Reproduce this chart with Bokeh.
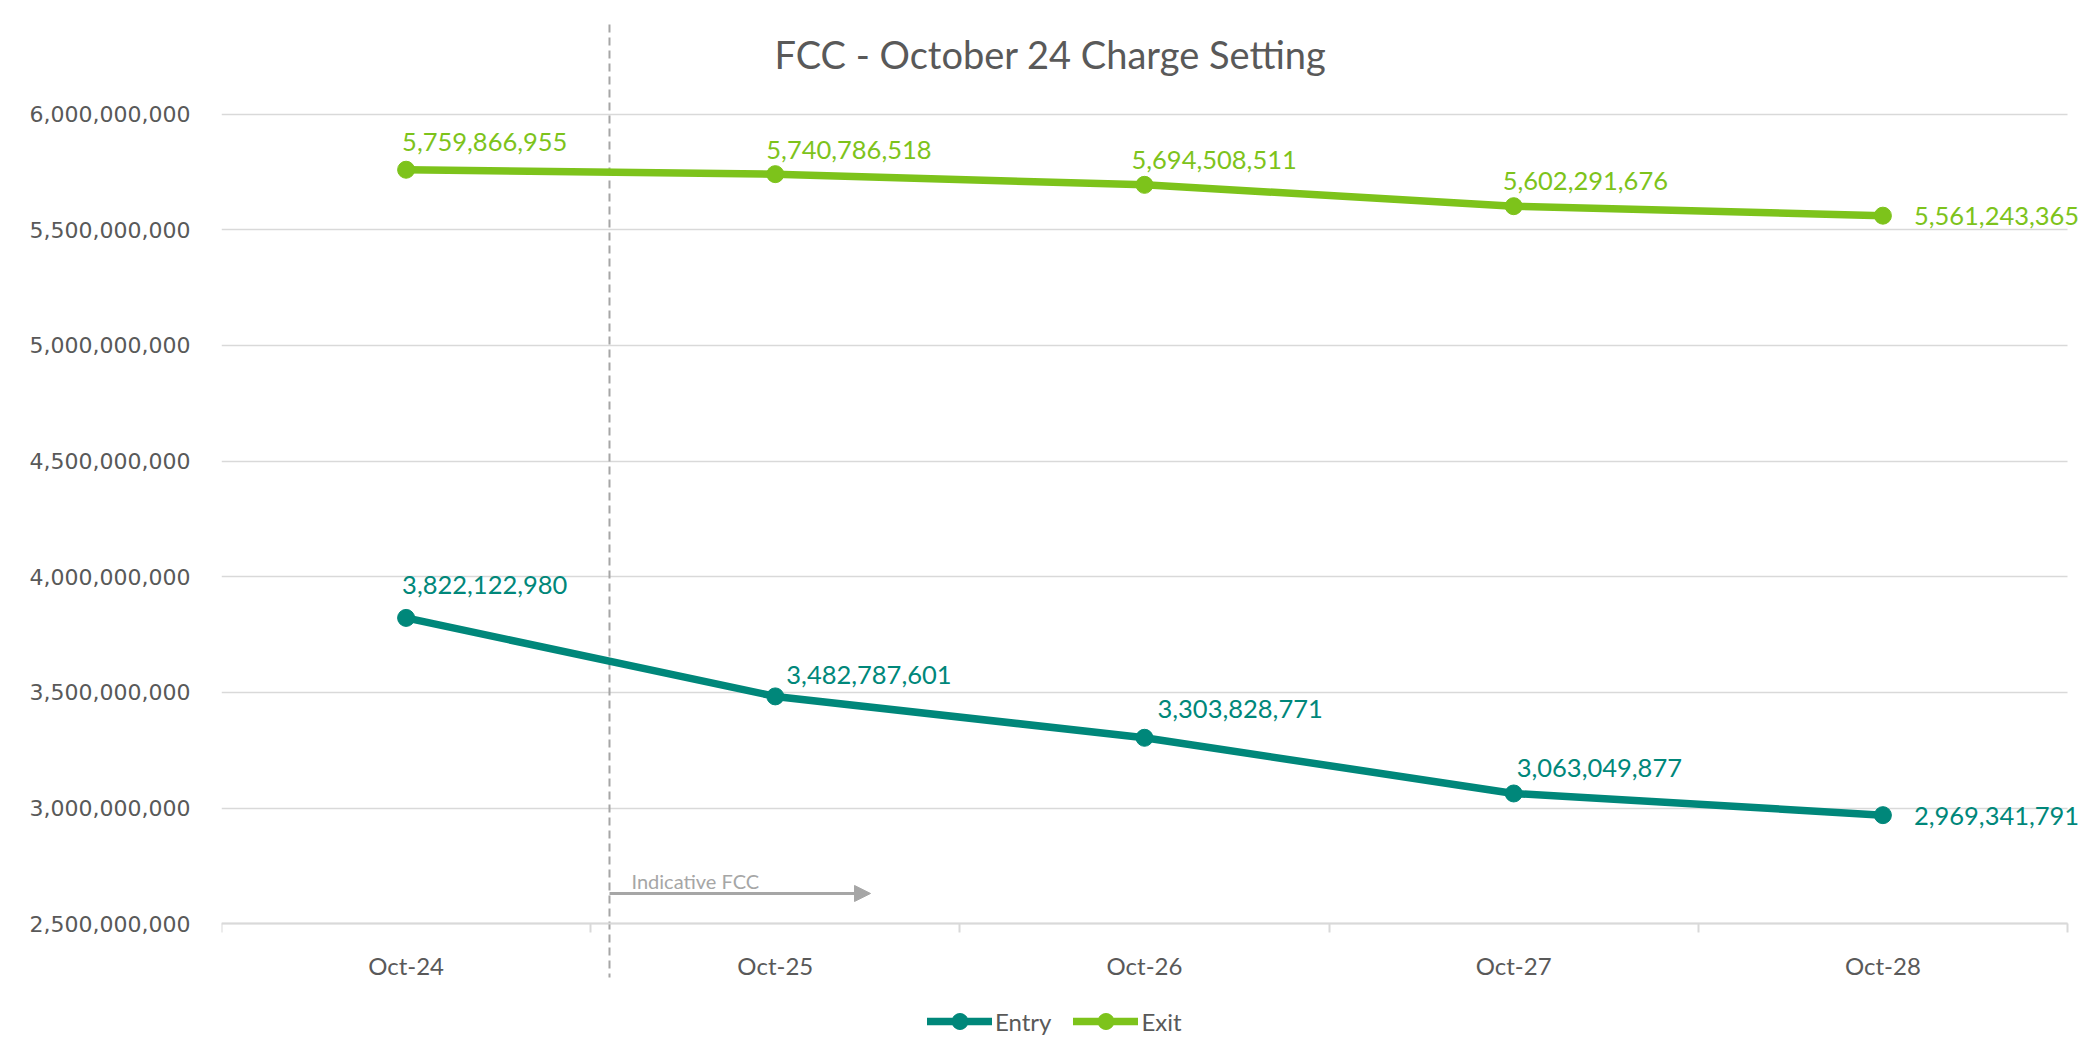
from bokeh.plotting import figure
from bokeh.models import (Range1d, FixedTicker, NumeralTickFormatter, Legend, LegendItem,
                          Label, Arrow, NormalHead, ColumnDataSource)
from bokeh.core.properties import value
from bokeh.embed import file_html
from bokeh.resources import INLINE

# ---------------- data ----------------
categories = ["Oct-24", "Oct-25", "Oct-26", "Oct-27", "Oct-28"]
entry_values = [3822122980, 3482787601, 3303828771, 3063049877, 2969341791]
exit_values = [5759866955, 5740786518, 5694508511, 5602291676, 5561243365]
y_tick_values = [2.5e9, 3.0e9, 3.5e9, 4.0e9, 4.5e9, 5.0e9, 5.5e9, 6.0e9]
title_text = "FCC - October 24 Charge Setting"
annotation_text = "Indicative FCC"
series_names = ["Entry", "Exit"]

# ---------------- styling ----------------
ENTRY_COLOR = "#00877A"
EXIT_COLOR = "#7DC31B"
GRID_COLOR = "#D9D9D9"
TEXT_GRAY = "#595959"
ANNOT_GRAY = "#A6A6A6"
FONT = "Lato"

# data label pixel offsets (left-aligned label relative to point)
entry_dx = [-4, 11, 13, 3, 31]
entry_dy = [-33, -21, -29, -25, 1]
exit_dx = [-4, -9, -13, -11, 31]
exit_dy = [-28, -24, -25, -25, 0]

W, H = 2090, 1054
LEFT = 221
n = len(categories)
xs = [i + 0.5 for i in range(n)]

p = figure(width=W, height=H,
           x_range=Range1d(0, 5.0623),
           y_range=Range1d(1.9345e9, 6.4916e9),
           output_backend="svg", toolbar_location=None,
           min_border_left=LEFT, min_border_right=0,
           min_border_top=0, min_border_bottom=0)
p.outline_line_color = None
p.background_fill_color = "white"
p.border_fill_color = "white"

# axes
p.xaxis.fixed_location = y_tick_values[0]
p.xaxis.bounds = (0, n)
p.xaxis.ticker = FixedTicker(ticks=xs, minor_ticks=list(range(n + 1)))
p.xaxis.major_label_overrides = {x: c for x, c in zip(xs, categories)}
p.xaxis.major_tick_line_color = None
p.xaxis.major_tick_out = 0
p.xaxis.major_tick_in = 0
p.xaxis.minor_tick_out = 9
p.xaxis.minor_tick_in = 0
p.xaxis.minor_tick_line_color = GRID_COLOR
p.xaxis.minor_tick_line_width = 2
p.xaxis.axis_line_color = GRID_COLOR
p.xaxis.axis_line_width = 2
p.xaxis.major_label_standoff = 18
p.xaxis.major_label_text_font = FONT
p.xaxis.major_label_text_font_size = "24px"
p.xaxis.major_label_text_color = TEXT_GRAY

p.yaxis.ticker = FixedTicker(ticks=y_tick_values)
p.yaxis.formatter = NumeralTickFormatter(format="0,0")
p.yaxis.axis_line_color = None
p.yaxis.major_tick_line_color = None
p.yaxis.minor_tick_line_color = None
p.yaxis.major_tick_out = 0
p.yaxis.major_label_standoff = 31
p.yaxis.major_label_text_font = "DejaVu Sans"
p.yaxis.major_label_text_font_size = "22px"
p.yaxis.major_label_text_color = TEXT_GRAY

p.xgrid.visible = False
p.ygrid.ticker = FixedTicker(ticks=y_tick_values)
p.ygrid.cross_bounds = (0, n)
p.ygrid.grid_line_color = GRID_COLOR
p.ygrid.grid_line_width = 1.5

# dashed divider between first and second category
dash_x = 1 + 0.0509
p.segment(x0=[dash_x], y0=[6.3878e9], x1=[dash_x], y1=[2.2675e9],
          line_color=ANNOT_GRAY, line_width=2, line_dash="8 5")

# series
renderers = []
for vals, color, dx, dy in [(entry_values, ENTRY_COLOR, entry_dx, entry_dy),
                            (exit_values, EXIT_COLOR, exit_dx, exit_dy)]:
    src = ColumnDataSource(dict(x=xs, y=vals, txt=[f"{v:,}" for v in vals], dx=dx, dy=dy))
    lr = p.line("x", "y", source=src, line_color=color, line_width=7.5,
                line_join="round", line_cap="round")
    cr = p.scatter("x", "y", source=src, size=17, fill_color=color, line_color=color)
    p.text("x", "y", text="txt", source=src, x_offset="dx", y_offset="dy",
           text_font=value(FONT), text_font_size="25.5px", text_color=color,
           text_align="left", text_baseline="middle")
    renderers.append((lr, cr))

# annotation arrow + label
p.add_layout(Arrow(end=NormalHead(size=16, fill_color=ANNOT_GRAY, line_color=ANNOT_GRAY),
                   x_start=dash_x, y_start=2.6307e9, x_end=1.7579, y_end=2.6307e9,
                   line_color=ANNOT_GRAY, line_width=3))
p.add_layout(Label(x=1.1105, y=2.6868e9, text=annotation_text, text_font=FONT,
                   text_font_size="20px", text_color=ANNOT_GRAY,
                   text_align="left", text_baseline="alphabetic"))

# title
p.add_layout(Label(x=2.2454, y=6.2603e9, text=title_text, text_font=FONT,
                   text_font_size="38px", text_color=TEXT_GRAY,
                   text_align="center", text_baseline="middle"))

# legend
legend = Legend(items=[LegendItem(label=s, renderers=list(r)) for s, r in zip(series_names, renderers)],
                orientation="horizontal", location=(706, 13))
legend.glyph_width = 65
legend.glyph_height = 40
legend.label_height = 40
legend.label_standoff = 3
legend.spacing = 22
legend.padding = 0
legend.margin = 0
legend.border_line_color = None
legend.background_fill_alpha = 0
legend.label_text_font = FONT
legend.label_text_font_size = "24px"
legend.label_text_color = TEXT_GRAY
p.add_layout(legend)

open("out.html", "w").write(file_html(p, INLINE))
